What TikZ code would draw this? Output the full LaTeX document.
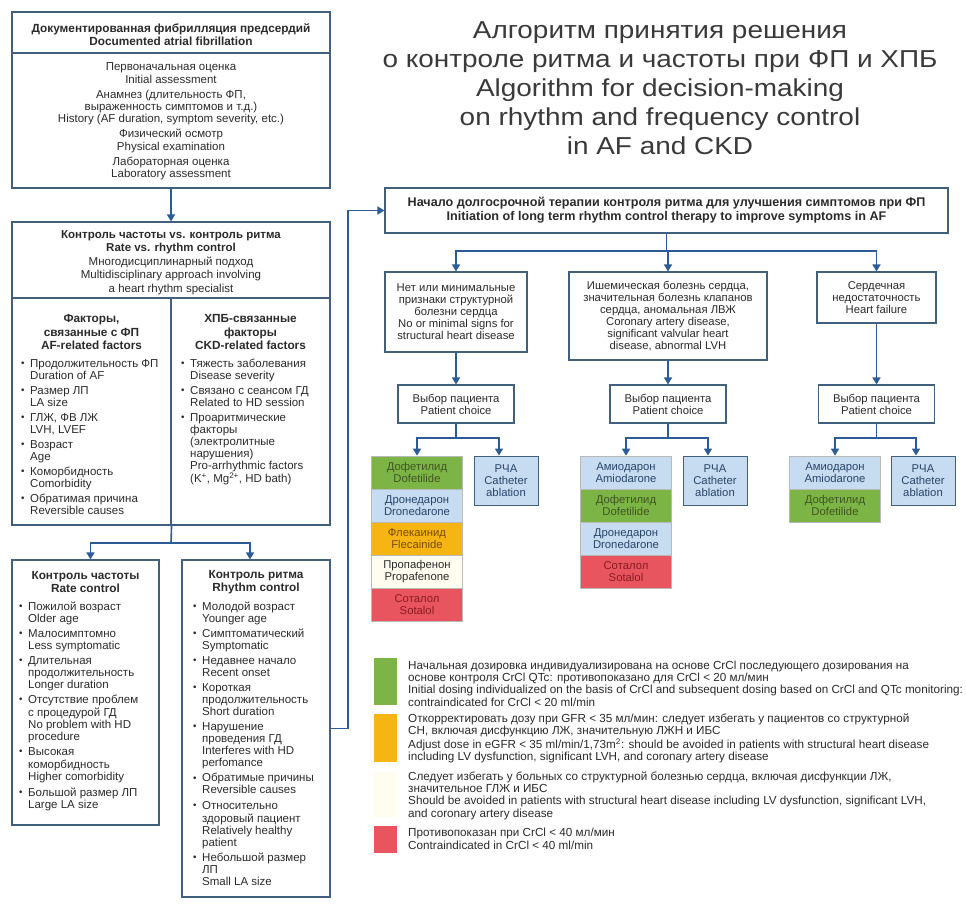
\documentclass[tikz,border=0pt]{standalone}
\usepackage{fontspec}
\usepackage{graphicx}
\setmainfont{Liberation Sans}
\newfontfamily\titlefont{Liberation Sans}[FakeStretch=1.14]
\usetikzlibrary{arrows.meta}
\definecolor{bordc}{HTML}{41607E}
\definecolor{arrc}{HTML}{2C5C96}
\definecolor{txtc}{HTML}{2B2B2B}
\definecolor{titc}{HTML}{3A3A3A}
\definecolor{cgreen}{HTML}{7DB446}
\definecolor{cblue}{HTML}{C7DCF0}
\definecolor{corange}{HTML}{F6B512}
\definecolor{ccream}{HTML}{FFFDF0}
\definecolor{cred}{HTML}{E8555E}
\definecolor{tgreen}{HTML}{3E5622}
\definecolor{tblue}{HTML}{28466A}
\definecolor{torange}{HTML}{7A4A00}
\definecolor{tred}{HTML}{8A1C24}
\newcommand{\fb}{\fontsize{11.5}{12.2}\selectfont}
\newcommand{\fli}{\fontsize{11.5}{12}\selectfont}
\newcommand{\fbb}{\fontsize{11.5}{13.2}\selectfont}
\newcommand{\fh}{\fontsize{11.8}{13.2}\selectfont\bfseries}
\newcommand{\ftop}{\fontsize{12.6}{14}\selectfont\bfseries}
\newcommand{\fr}{\fontsize{11.3}{12}\selectfont}
\newcommand{\fl}{\fontsize{11.7}{12.4}\selectfont}
\newcommand{\ft}{\titlefont\fontsize{24.5}{29}\selectfont}
\newcommand{\bi}[1]{\makebox[9pt][l]{\raisebox{0.15ex}{\scalebox{0.85}{•}}}\parbox[t]{150pt}{\strut #1\strut}}
\tikzset{
  box/.style={draw=bordc, line width=1.1pt, fill=white, inner sep=0pt, align=center, text=txtc},
  txt/.style={inner sep=0pt, text=txtc},
  ln/.style={draw=arrc, line width=1.6pt},
  arr/.style={draw=arrc, line width=1.6pt, -{Triangle[length=7pt,width=8pt]}},
  drug/.style={draw=gray!55, line width=0.7pt, minimum width=91, minimum height=33, inner sep=0pt, align=center, font=\fr},
  rfa/.style={draw=bordc, line width=0.9pt, fill=cblue, minimum width=64, minimum height=49, inner sep=0pt, align=center, font=\fr, text=tblue},
  leg/.style={inner sep=0pt, minimum width=23},
}
\begin{document}
\begin{tikzpicture}[x=1pt, y=-1pt]
\useasboundingbox (0,0) rectangle (966,904);
\fill[white] (0,0) rectangle (966,904);

% ---------- left column ----------
\node[box, minimum width=318, minimum height=41] (dochead) at (171,32.5) {};
\node[txt, align=center, font=\fh] (docheadtext) at (171,34.5)
  {Документированная фибрилляция предсердий\\Documented atrial fibrillation};
\node[box, minimum width=318, minimum height=135] (docbody) at (171,120.5) {};
\node[txt, align=center, font=\fb] (docbodytext) at (171,121.5)
  {Первоначальная оценка\\Initial assessment\\[3pt]
   Анамнез (длительность ФП,\\выраженность симптомов и т.д.)\\History (AF duration, symptom severity, etc.)\\[3pt]
   Физический осмотр\\Physical examination\\[3pt]
   Лабораторная оценка\\Laboratory assessment};

\node[box, minimum width=318, minimum height=76] (rvr) at (171,260) {};
\node[txt, align=center, font=\fbb] (rvrtext) at (171,262.5)
  {\textbf{Контроль частоты vs. контроль ритма}\\\textbf{Rate vs. rhythm control}\\[1pt]
   Многодисциплинарный подход\\Multidisciplinary approach involving\\a heart rhythm specialist};

\node[box, minimum width=159, minimum height=227] (afcol) at (91.5,411.5) {};
\node[box, minimum width=159, minimum height=227] (ckdcol) at (250.5,411.5) {};

\node[txt, align=center, font=\fh] (afhead) at (91.5,332)
  {Факторы,\\связанные с ФП\\AF-related factors};
\node[txt, align=center, font=\fh] (ckdhead) at (250.5,332)
  {ХПБ-связанные\\факторы\\CKD-related factors};

\node[txt, anchor=north west, align=left, font=\fli] (aflist) at (21,358.5)
  {\bi{Продолжительность ФП\\Duration of AF}\\[2.1pt]
   \bi{Размер ЛП\\LA size}\\[2.1pt]
   \bi{ГЛЖ, ФВ ЛЖ\\LVH, LVEF}\\[2.1pt]
   \bi{Возраст\\Age}\\[2.1pt]
   \bi{Коморбидность\\Comorbidity}\\[2.1pt]
   \bi{Обратимая причина\\Reversible causes}};

\node[txt, anchor=north west, align=left, font=\fli] (ckdlist) at (181,358.5)
  {\bi{Тяжесть заболевания\\Disease severity}\\[2.1pt]
   \bi{Связано с сеансом ГД\\Related to HD session}\\[2.1pt]
   \bi{Проаритмические\\факторы\\(электролитные\\нарушения)\\Pro-arrhythmic factors\\(K\textsuperscript{+}, Mg\textsuperscript{2+}, HD bath)}};

\node[box, minimum width=147, minimum height=265] (rate) at (85.5,692.5) {};
\node[box, minimum width=148, minimum height=337] (rhythm) at (256,728.5) {};

\node[txt, align=center, font=\fh] (ratehead) at (85.5,582) {Контроль частоты\\Rate control};
\node[txt, align=center, font=\fh] (rhyhead) at (256,582) {Контроль ритма\\Rhythm control};

\node[txt, anchor=north west, align=left, font=\fli] (ratelist) at (19,601.5)
  {\bi{Пожилой возраст\\Older age}\\[2.1pt]
   \bi{Малосимптомно\\Less symptomatic}\\[2.1pt]
   \bi{Длительная\\продолжительность\\Longer duration}\\[2.1pt]
   \bi{Отсутствие проблем\\с процедурой ГД\\No problem with HD\\procedure}\\[2.1pt]
   \bi{Высокая\\коморбидность\\Higher comorbidity}\\[2.1pt]
   \bi{Большой размер ЛП\\Large LA size}};

\node[txt, anchor=north west, align=left, font=\fli] (rhylist) at (193,601.5)
  {\bi{Молодой возраст\\Younger age}\\[2.1pt]
   \bi{Симптоматический\\Symptomatic}\\[2.1pt]
   \bi{Недавнее начало\\Recent onset}\\[2.1pt]
   \bi{Короткая\\продолжительность\\Short duration}\\[2.1pt]
   \bi{Нарушение\\проведения ГД\\Interferes with HD\\perfomance}\\[2.1pt]
   \bi{Обратимые причины\\Reversible causes}\\[2.1pt]
   \bi{Относительно\\здоровый пациент\\Relatively healthy\\patient}\\[2.1pt]
   \bi{Небольшой размер\\ЛП\\Small LA size}};

\draw[arr] (docbody.south) -- (rvr.north);
\coordinate (sp1) at (171,543);
\draw[ln] (afcol.south east) -- (sp1);
\draw[arr] (sp1) -| ([xshift=5pt]rate.north);
\draw[arr] (sp1) -| ([xshift=-6pt]rhythm.north);

% ---------- title ----------
\node[txt, align=center, font=\ft, text=titc] (title) at (660,88.5)
  {Алгоритм принятия решения\\о контроле ритма и частоты при ФП и ХПБ\\Algorithm for decision-making\\on rhythm and frequency control\\in AF and CKD};

% ---------- right part ----------
\node[box, minimum width=563, minimum height=45, font=\ftop] (top) at (666.5,210.5)
  {Начало долгосрочной терапии контроля ритма для улучшения симптомов при ФП\\Initiation of long term rhythm control therapy to improve symptoms in AF};

\coordinate (bend) at (348,728.5);
\draw[arr] (rhythm.east) -- (bend) |- (top.west);

\node[box, minimum width=142, minimum height=80, font=\fr] (boxA) at (456,312)
  {Нет или минимальные\\признаки структурной\\болезни сердца\\No or minimal signs for\\structural heart disease};
\node[box, minimum width=198, minimum height=88, font=\fr] (boxB) at (668,316)
  {Ишемическая болезнь сердца,\\значительная болезнь клапанов\\сердца, аномальная ЛВЖ\\Coronary artery disease,\\significant valvular heart\\disease, abnormal LVH};
\node[box, minimum width=119, minimum height=51, font=\fr] (boxC) at (876.5,297.5)
  {Сердечная\\недостаточность\\Heart failure};

\coordinate (sp2) at (666.5,251);
\draw[ln] (top.south) -- (sp2);
\draw[arr] (sp2) -| (boxA.north);
\draw[arr] (sp2) -| (boxB.north);
\draw[arr] (sp2) -| (boxC.north);

\node[box, minimum width=116, minimum height=38, font=\fr] (pcA) at (456,404) {Выбор пациента\\Patient choice};
\node[box, minimum width=116, minimum height=38, font=\fr] (pcB) at (668,404) {Выбор пациента\\Patient choice};
\node[box, minimum width=116, minimum height=38, font=\fr] (pcC) at (876.5,404) {Выбор пациента\\Patient choice};

\draw[arr] (boxA.south) -- (pcA.north);
\draw[arr] (boxB.south) -- (pcB.north);
\draw[arr] (boxC.south) -- (pcC.north);

% drug column A
\node[drug, fill=cgreen, text=tgreen] (dofA) at (417,472.5) {Дофетилид\\Dofetilide};
\node[drug, fill=cblue, text=tblue] (droA) at (417,505.5) {Дронедарон\\Dronedarone};
\node[drug, fill=corange, text=torange] (flcA) at (417,538.5) {Флекаинид\\Flecainide};
\node[drug, fill=ccream, text=txtc] (proA) at (417,571.5) {Пропафенон\\Propafenone};
\node[drug, fill=cred, text=tred] (sotA) at (417,604.5) {Соталол\\Sotalol};
\node[rfa] (rfaA) at (506,480.5) {РЧА\\Catheter\\ablation};

% drug column B
\node[drug, fill=cblue, text=tblue] (amiB) at (626,472.5) {Амиодарон\\Amiodarone};
\node[drug, fill=cgreen, text=tgreen] (dofB) at (626,505.5) {Дофетилид\\Dofetilide};
\node[drug, fill=cblue, text=tblue] (droB) at (626,538.5) {Дронедарон\\Dronedarone};
\node[drug, fill=cred, text=tred] (sotB) at (626,571.5) {Соталол\\Sotalol};
\node[rfa] (rfaB) at (715,480.5) {РЧА\\Catheter\\ablation};

% drug column C
\node[drug, fill=cblue, text=tblue] (amiC) at (835,472.5) {Амиодарон\\Amiodarone};
\node[drug, fill=cgreen, text=tgreen] (dofC) at (835,505.5) {Дофетилид\\Dofetilide};
\node[rfa] (rfaC) at (923,480.5) {РЧА\\Catheter\\ablation};

\coordinate (spA) at (456,438);
\coordinate (spB) at (668,438);
\coordinate (spC) at (876.5,438);
\draw[ln] (pcA.south) -- (spA);
\draw[ln] (pcB.south) -- (spB);
\draw[ln] (pcC.south) -- (spC);
\draw[arr] (spA) -| (dofA.north);
\draw[arr] (spA) -| ([xshift=-7pt]rfaA.north);
\draw[arr] (spB) -| (amiB.north);
\draw[arr] (spB) -| ([xshift=-7pt]rfaB.north);
\draw[arr] (spC) -| (amiC.north);
\draw[arr] (spC) -| ([xshift=-7pt]rfaC.north);

% ---------- legend ----------
\node[leg, fill=cgreen, minimum height=47] (lg1) at (385,681.5) {};
\node[leg, fill=corange, minimum height=48] (lg2) at (385,738) {};
\node[leg, fill=ccream, minimum height=45] (lg3) at (385,794.5) {};
\node[leg, fill=cred, minimum height=27] (lg4) at (385,839.5) {};

\node[txt, anchor=west, align=left, font=\fl] (lt1) at (408,683.5)
  {Начальная дозировка индивидуализирована на основе CrCl последующего дозирования на\\
   основе контроля CrCl QTc: противопоказано для CrCl < 20 мл/мин\\
   Initial dosing individualized on the basis of CrCl and subsequent dosing based on CrCl and QTc monitoring:\\
   contraindicated for CrCl < 20 ml/min};
\node[txt, anchor=west, align=left, font=\fl] (lt2) at (408,738.5)
  {Откорректировать дозу при GFR < 35 мл/мин: следует избегать у пациентов со структурной\\
   СН, включая дисфункцию ЛЖ, значительную ЛЖН и ИБС\\
   Adjust dose in eGFR < 35 ml/min/1,73m\textsuperscript{2}: should be avoided in patients with structural heart disease\\
   including LV dysfunction, significant LVH, and coronary artery disease};
\node[txt, anchor=west, align=left, font=\fl] (lt3) at (408,795.5)
  {Следует избегать у больных со структурной болезнью сердца, включая дисфункции ЛЖ,\\
   значительное ГЛЖ и ИБС\\
   Should be avoided in patients with structural heart disease including LV dysfunction, significant LVH,\\
   and coronary artery disease};
\node[txt, anchor=west, align=left, font=\fl] (lt4) at (408,839)
  {Противопоказан при CrCl < 40 мл/мин\\Contraindicated in CrCl < 40 ml/min};
\end{tikzpicture}
\end{document}
